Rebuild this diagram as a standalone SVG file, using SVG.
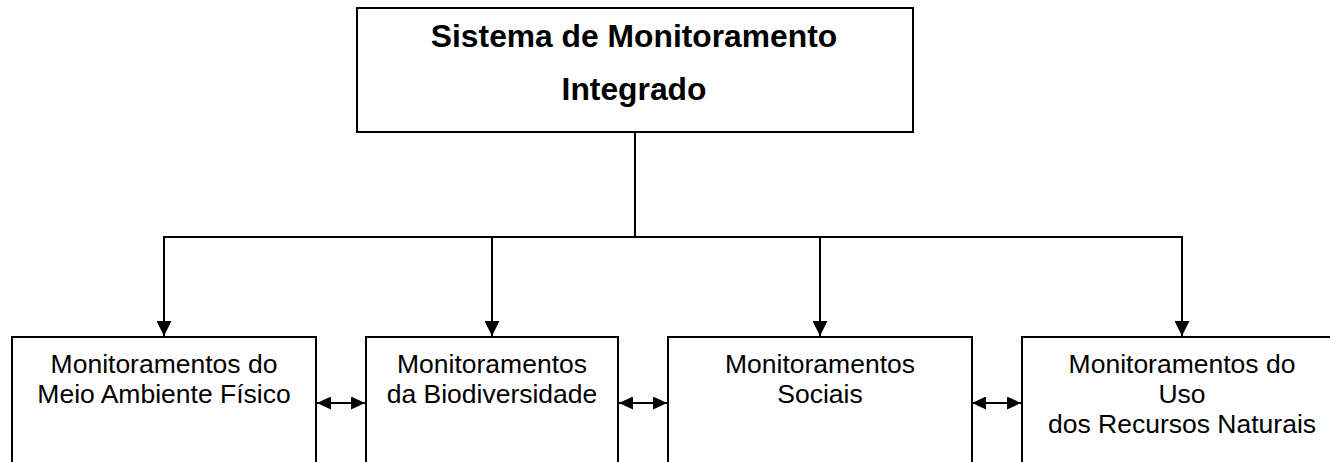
<svg xmlns="http://www.w3.org/2000/svg" width="1330" height="462" viewBox="0 0 1330 462">
  <style>
    .box { fill: #ffffff; stroke: #000000; stroke-width: 2; }
    .title { font-family: "Liberation Sans", Arial, sans-serif; font-weight: bold; font-size: 31.8px; fill: #000000; text-anchor: middle; }
    .label { font-family: "Liberation Sans", Arial, sans-serif; font-size: 26.5px; fill: #000000; text-anchor: middle; }
    .conn { fill: none; stroke: #000000; stroke-width: 2; }
  </style>
  <defs>
    <marker id="arrowDown" markerUnits="userSpaceOnUse" markerWidth="15" markerHeight="15" refX="15" refY="7.5" orient="auto">
      <path d="M0,0 L15,7.5 L0,15 Z" fill="#000000"/>
    </marker>
    <marker id="arrowSide" markerUnits="userSpaceOnUse" markerWidth="14" markerHeight="13" refX="14" refY="6.5" orient="auto-start-reverse">
      <path d="M0,0 L14,6.5 L0,13 Z" fill="#000000"/>
    </marker>
  </defs>
  <rect width="1330" height="462" fill="#ffffff"/>

  <g id="connectors">
    <line class="conn" x1="635" y1="132" x2="635" y2="237"/>
    <line class="conn" x1="163" y1="237" x2="1183" y2="237"/>
    <line class="conn" x1="164" y1="237" x2="164" y2="336" marker-end="url(#arrowDown)"/>
    <line class="conn" x1="492" y1="237" x2="492" y2="336" marker-end="url(#arrowDown)"/>
    <line class="conn" x1="820" y1="237" x2="820" y2="336" marker-end="url(#arrowDown)"/>
    <line class="conn" x1="1182" y1="237" x2="1182" y2="336" marker-end="url(#arrowDown)"/>
    <line class="conn" x1="317" y1="403" x2="365" y2="403" marker-start="url(#arrowSide)" marker-end="url(#arrowSide)"/>
    <line class="conn" x1="619" y1="403" x2="667" y2="403" marker-start="url(#arrowSide)" marker-end="url(#arrowSide)"/>
    <line class="conn" x1="972" y1="403" x2="1021" y2="403" marker-start="url(#arrowSide)" marker-end="url(#arrowSide)"/>
  </g>

  <g id="node-sistema">
    <rect class="box" x="357" y="8" width="556" height="124"/>
    <text class="title" x="634" y="47">Sistema de Monitoramento</text>
    <text class="title" x="634" y="100">Integrado</text>
  </g>

  <g id="node-meio-fisico">
    <rect class="box" x="12" y="337" width="304" height="200"/>
    <text class="label" x="164" y="373">Monitoramentos do</text>
    <text class="label" x="164" y="403">Meio Ambiente Físico</text>
  </g>

  <g id="node-biodiversidade">
    <rect class="box" x="366" y="337" width="252" height="200"/>
    <text class="label" x="492" y="373">Monitoramentos</text>
    <text class="label" x="492" y="403">da Biodiversidade</text>
  </g>

  <g id="node-sociais">
    <rect class="box" x="668" y="337" width="304" height="200"/>
    <text class="label" x="820" y="373">Monitoramentos</text>
    <text class="label" x="820" y="403">Sociais</text>
  </g>

  <g id="node-recursos">
    <rect class="box" x="1022" y="337" width="320" height="200"/>
    <text class="label" x="1182" y="373">Monitoramentos do</text>
    <text class="label" x="1182" y="403">Uso</text>
    <text class="label" x="1182" y="433">dos Recursos Naturais</text>
  </g>
</svg>
